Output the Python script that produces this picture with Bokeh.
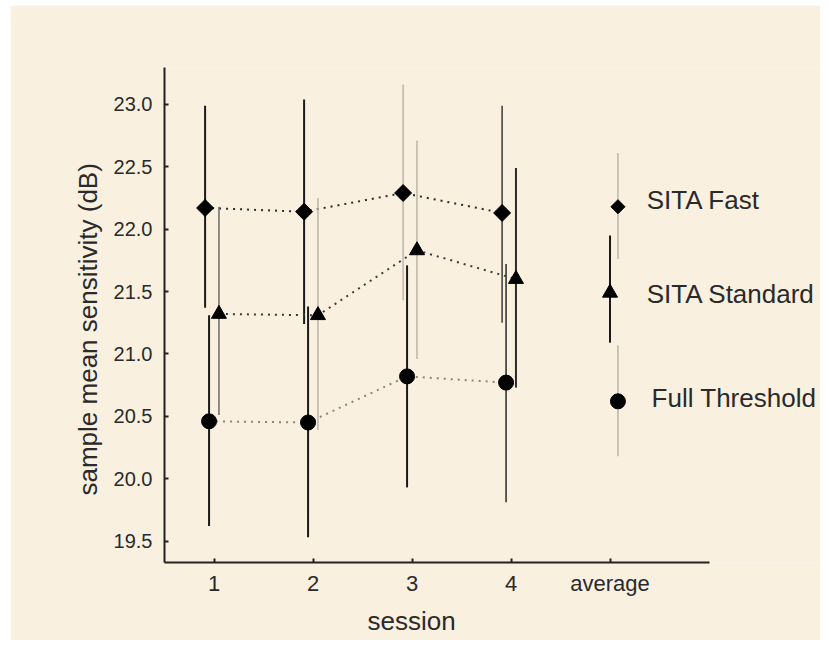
import numpy as np
from bokeh.plotting import figure
from bokeh.models import Range1d, FixedTicker, Label, ColumnDataSource, Spacer, Title
from bokeh.layouts import row, column
from bokeh.embed import file_html
from bokeh.resources import INLINE

# ---- data ----
sessions = [1, 2, 3, 4]
tick_labels = ["1", "2", "3", "4", "average"]

fast_mean = [22.17, 22.14, 22.29, 22.13]
fast_low = [21.37, 21.24, 21.43, 21.25]
fast_high = [22.99, 23.04, 23.16, 22.99]

std_mean = [21.32, 21.31, 21.83, 21.60]
std_low = [20.51, 20.39, 20.96, 20.73]
std_high = [22.18, 22.25, 22.71, 22.49]

full_mean = [20.46, 20.45, 20.82, 20.77]
full_low = [19.62, 19.53, 19.93, 19.81]
full_high = [21.31, 21.38, 21.71, 21.72]

avg_pos = 5
fast_avg = [22.18, 21.76, 22.61]   # mean, low, high
std_avg = [21.49, 21.09, 21.95]
full_avg = [20.62, 20.18, 21.07]

series_names = ["SITA Fast", "SITA Standard", "Full Threshold"]
x_title = "session"
y_title = "sample mean sensitivity (dB)"

# ---- styles ----
BG = "#F9F0E0"
DARK = "#1a1a1a"
LIGHT = "#bdb5a8"
MID = "#6e6a64"
FONT = "Liberation Sans"
TXT = "#2a2a2a"

fast_bar_col = [DARK, DARK, LIGHT, "#3a3a3a"]
std_bar_col = [MID, LIGHT, LIGHT, "#2a2a2a"]
full_bar_col = [DARK, DARK, DARK, "#2a2a2a"]
fast_bar_w = [2, 2, 1.5, 1.5]
std_bar_w = [1.5, 1.5, 1.5, 2]
full_bar_w = [2, 2, 2, 1.5]

p = figure(width=810, height=635, output_backend="svg", toolbar_location=None,
           x_range=Range1d(0.5, 7.126), y_range=Range1d(19.328, 23.296),
           min_border_left=154, min_border_top=62, min_border_right=0,
           min_border_bottom=77)
p.background_fill_color = BG
p.border_fill_color = BG
p.outline_line_color = None
p.grid.visible = False

def series(mean, low, high, offset, bar_col, bar_w, marker, size, angle, line_col):
    xs = [s + offset for s in sessions]
    src = ColumnDataSource(dict(x=xs, y=mean, lo=low, hi=high, c=bar_col, w=bar_w))
    p.segment(x0="x", y0="lo", x1="x", y1="hi", source=src, line_color="c", line_width="w")
    p.line(x="x", y="y", source=src, line_color=line_col, line_width=2, line_dash="2 5")
    p.scatter(x="x", y="y", source=src, marker=marker, size=size, angle=angle,
              fill_color="black", line_color="black")

series(fast_mean, fast_low, fast_high, -0.09, fast_bar_col, fast_bar_w, "square", 12, np.pi / 4, "#2a2a2a")
series(std_mean, std_low, std_high, 0.05, std_bar_col, std_bar_w, "triangle", 15, 0, "#3a3a3a")
series(full_mean, full_low, full_high, -0.05, full_bar_col, full_bar_w, "circle", 15, 0, "#8a8580")

def avg(vals, offset, col, w, marker, size, angle):
    x = avg_pos + offset
    p.segment(x0=[x], y0=[vals[1]], x1=[x], y1=[vals[2]], line_color=col, line_width=w)
    p.scatter(x=[x], y=[vals[0]], marker=marker, size=size, angle=angle,
              fill_color="black", line_color="black")

avg(fast_avg, 0.08, LIGHT, 1.5, "square", 10, np.pi / 4)
avg(std_avg, 0.0, DARK, 2, "triangle", 15, 0)
avg(full_avg, 0.08, LIGHT, 1.5, "circle", 15, 0)

label_x = [5.37, 5.37, 5.42]
label_y = [fast_avg[0] + 0.05, std_avg[0] - 0.01, full_avg[0] + 0.03]
for name, lx, ly in zip(series_names, label_x, label_y):
    p.add_layout(Label(x=lx, y=ly, text=name, text_font=FONT, text_font_size="26px",
                       text_color=TXT, text_baseline="middle", text_align="left"))

# axes
for ax in (p.xaxis[0], p.yaxis[0]):
    ax.axis_line_width = 2
    ax.axis_line_color = "#222222"
    ax.major_tick_line_color = "#222222"
    ax.major_tick_line_width = 2
    ax.major_tick_in = 4
    ax.major_tick_out = 0
    ax.minor_tick_line_color = None
    ax.major_label_text_font = FONT
    ax.major_label_text_font_size = "20px"
    ax.major_label_text_color = TXT

p.xaxis.bounds = (0.5, 6.0)
p.xaxis.ticker = FixedTicker(ticks=[1, 2, 3, 4, 5])
p.xaxis.major_label_overrides = {i + 1: t for i, t in enumerate(tick_labels)}
p.xaxis.major_label_standoff = 8
p.xaxis.major_label_text_font_size = "22px"

p.yaxis.bounds = (19.328, 23.296)
p.yaxis.ticker = FixedTicker(ticks=[19.5, 20.0, 20.5, 21.0, 21.5, 22.0, 22.5, 23.0])
p.yaxis.major_label_overrides = {v: f"{v:.1f}" for v in [19.5, 20.0, 20.5, 21.0, 21.5, 22.0, 22.5, 23.0]}
p.yaxis.major_label_standoff = 12

# axis titles as side-panel titles so they can sit off-centre like the reference
p.add_layout(Title(text=x_title, align="left", offset=203, text_font=FONT,
                   text_font_size="26px", text_font_style="normal", text_color=TXT,
                   standoff=10), "below")
p.add_layout(Title(text=y_title, align="left", offset=67, text_font=FONT,
                   text_font_size="26px", text_font_style="normal", text_color=TXT,
                   standoff=16), "left")

layout = row(Spacer(width=10), column(Spacer(height=5), p))
open("out.html", "w").write(file_html(layout, INLINE))
